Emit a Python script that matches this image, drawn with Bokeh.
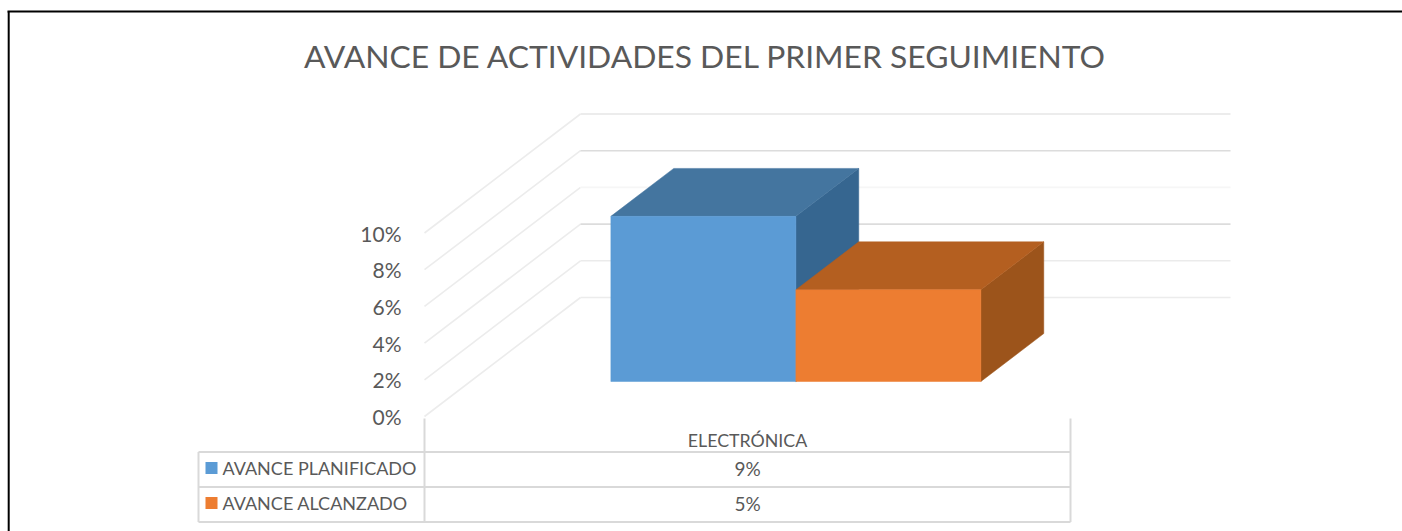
from bokeh.plotting import figure
from bokeh.embed import file_html
from bokeh.resources import INLINE
from bokeh.core.properties import value

# --- data ---
title_text = "AVANCE DE ACTIVIDADES DEL PRIMER SEGUIMIENTO"
category = "ELECTRÓNICA"
series_names = ["AVANCE PLANIFICADO", "AVANCE ALCANZADO"]
series_values = [9, 5]
grid_values = [0, 2, 4, 6, 8, 10]
tick_labels = ["0%", "2%", "4%", "6%", "8%", "10%"]

# --- style ---
FONT = value("Lato")
TXT = "#595959"
TABLE = "#d9d9d9"
GRID_DIAG = "#ececec"
GRID_BACK = ["#ececec", "#ebebeb", "#dcdcdc", "#f6f6f6", "#dcdcdc", "#e6e6e6"]
FRONT = ["#5b9bd5", "#ed7d31"]
TOP = ["#44759f", "#b45f20"]
SIDE = ["#366690", "#9c541b"]

# --- layout: page pixels of the scales ---
W, H = 1402, 531
ORG_X, ORG_Y = 0, 0
X0, CAT_W = 424, 646       # category band on the front plane
Y0, PER_UNIT = 416, 18.35  # value 0 on the front plane, pixels per 1 %
DEPTH_X, DEPTH_Y = 156, 119


def xd(px):
    return (px - X0) / CAT_W


def yd(py):
    return (Y0 - py) / PER_UNIT


p = figure(width=W, height=H, output_backend="svg", toolbar_location=None,
           x_range=(xd(ORG_X), xd(ORG_X + W)), y_range=(yd(ORG_Y + H), yd(ORG_Y)),
           min_border=0, outline_line_color=None, background_fill_color="white",
           border_fill_color="white")
p.axis.visible = False
p.grid.visible = False


def proj(cat, val, depth):
    """Project a point of the 3-D box into the data space of the figure."""
    return cat + depth * DEPTH_X / CAT_W, val + depth * DEPTH_Y / PER_UNIT


# frame of the picture
p.line([xd(8.2), xd(8.2)], [yd(531), yd(11)], line_color="black", line_width=2)
p.line([xd(7), xd(1402)], [yd(11), yd(11)], line_color="black", line_width=2)

# title
p.text([xd(705)], [yd(55)], text=[title_text], text_font=FONT, text_font_size="31.8px",
       text_color=TXT, text_align="center", text_baseline="middle")

# 3-D gridlines: diagonal on the floor side, horizontal on the back wall
GRID_END = xd(1230)
for i, v in enumerate(grid_values):
    a = proj(0, v, 0)
    b = proj(0, v, 1)
    p.line([a[0], b[0]], [a[1], b[1]], line_color=GRID_DIAG, line_width=1.6)
    p.line([b[0], GRID_END], [b[1], b[1]], line_color=GRID_BACK[i], line_width=1.6)

# y tick labels
p.text([xd(401)] * len(grid_values), grid_values, text=tick_labels,
       text_font=FONT, text_font_size="21px", text_color=TXT,
       text_align="right", text_baseline="middle")

# bars
BAR_W = 0.2864
BAR_START = 0.2175
D0 = 0.294
D1 = 0.697
for i, v in enumerate(series_values):
    l = BAR_START + i * BAR_W
    r = l + BAR_W
    top = [proj(l, v, D0), proj(r, v, D0), proj(r, v, D1), proj(l, v, D1)]
    side = [proj(r, 0, D0), proj(r, 0, D1), proj(r, v, D1), proj(r, v, D0)]
    front = [proj(l, 0, D0), proj(r, 0, D0), proj(r, v, D0), proj(l, v, D0)]
    for pts, col in ((side, SIDE[i]), (top, TOP[i]), (front, FRONT[i])):
        p.patch([q[0] for q in pts], [q[1] for q in pts], fill_color=col, line_color=col, line_width=0.5)

# data table
TL, TM, TR = xd(198), xd(424), xd(1070)
ROW = [yd(451.5), yd(486.5), yd(521.5)]
for y in ROW:
    p.line([TL, TR], [y, y], line_color=TABLE, line_width=2)
p.line([TM, TM], [yd(418), yd(521.5)], line_color=TABLE, line_width=2)
p.line([TR, TR], [yd(418), yd(521.5)], line_color=TABLE, line_width=2)
p.line([TL, TL], [yd(451.5), yd(521.5)], line_color=TABLE, line_width=2)

p.text([0.5], [yd(439)], text=[category], text_font=FONT, text_font_size="17.8px",
       text_color=TXT, text_align="center", text_baseline="middle")
row_mid = [yd(467.5), yd(502.5)]
for i, name in enumerate(series_names):
    p.rect([xd(211)], [row_mid[i]], width=12 / CAT_W, height=12 / PER_UNIT,
           fill_color=FRONT[i], line_color=None)
    p.text([xd(222)], [row_mid[i]], text=[name], text_font=FONT, text_font_size="18px",
           text_color=TXT, text_align="left", text_baseline="middle")
    p.text([0.5], [row_mid[i]], text=[f"{series_values[i]}%"], text_font=FONT, text_font_size="19px",
           text_color=TXT, text_align="center", text_baseline="middle")

open("out.html", "w").write(file_html(p, INLINE))
